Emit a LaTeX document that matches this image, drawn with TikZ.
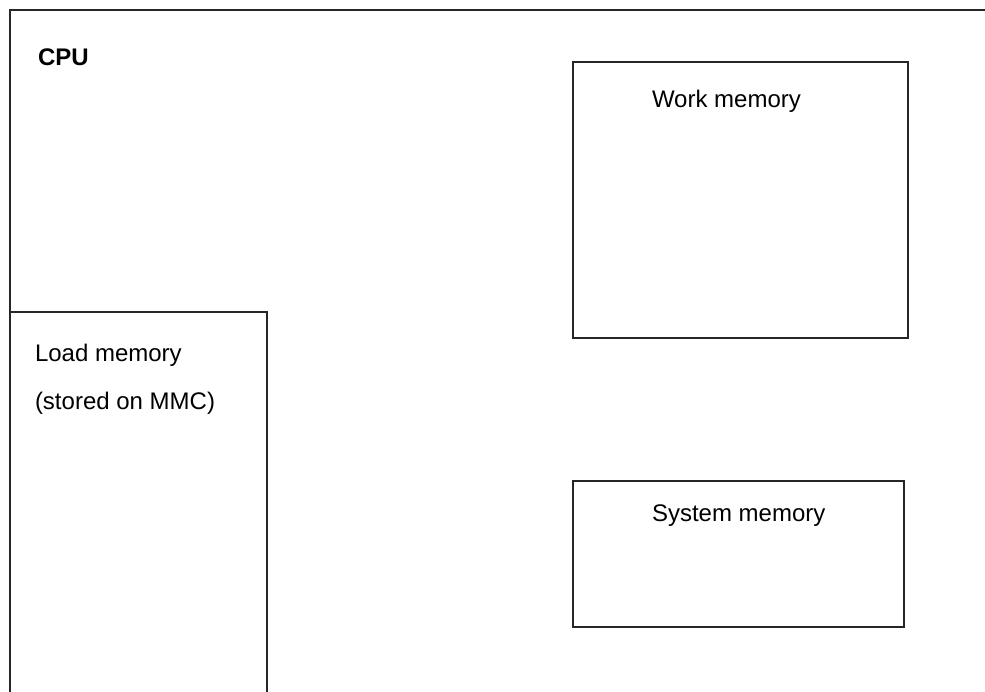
\documentclass[tikz,border=0pt]{standalone}
\usepackage{fontspec}
\setmainfont{Liberation Sans}
\begin{document}
\begin{tikzpicture}[x=1pt, y=-1pt,
  frame/.style={draw=black!85, line width=1.3pt, fill=none, inner sep=0pt, outer sep=0pt},
  label/.style={anchor=base west, inner sep=0pt, outer sep=0pt, font=\fontsize{24}{29}\selectfont},
  title/.style={label, font=\fontsize{24}{29}\selectfont\bfseries}]
  \useasboundingbox (0,0) rectangle (985,691);
  \begin{scope}
    \clip (0,0) rectangle (985,691);
    % CPU enclosure, running past the right and bottom edges
    \node[frame, anchor=north west, minimum width=1000pt, minimum height=720pt] (cpu) at (10,10) {};
    % load memory area, open at the bottom
    \node[frame, anchor=north west, minimum width=257pt, minimum height=420pt] (load) at (10,312) {};
  \end{scope}
  % memory areas inside the CPU
  \node[frame, anchor=north west, minimum width=335pt, minimum height=276pt] (work) at (573,62) {};
  \node[frame, anchor=north west, minimum width=331pt, minimum height=146pt] (sys) at (573,481) {};
  % labels
  \node[title] (cpulabel) at (38,65) {CPU};
  \node[label] (worklabel) at (652,107) {Work memory};
  \node[label] (syslabel) at (652,521) {System memory};
  \node[label] (loadlabel) at (35,361) {Load memory};
  \node[label] (loadnote) at (35,409) {(stored on MMC)};
\end{tikzpicture}
\end{document}
